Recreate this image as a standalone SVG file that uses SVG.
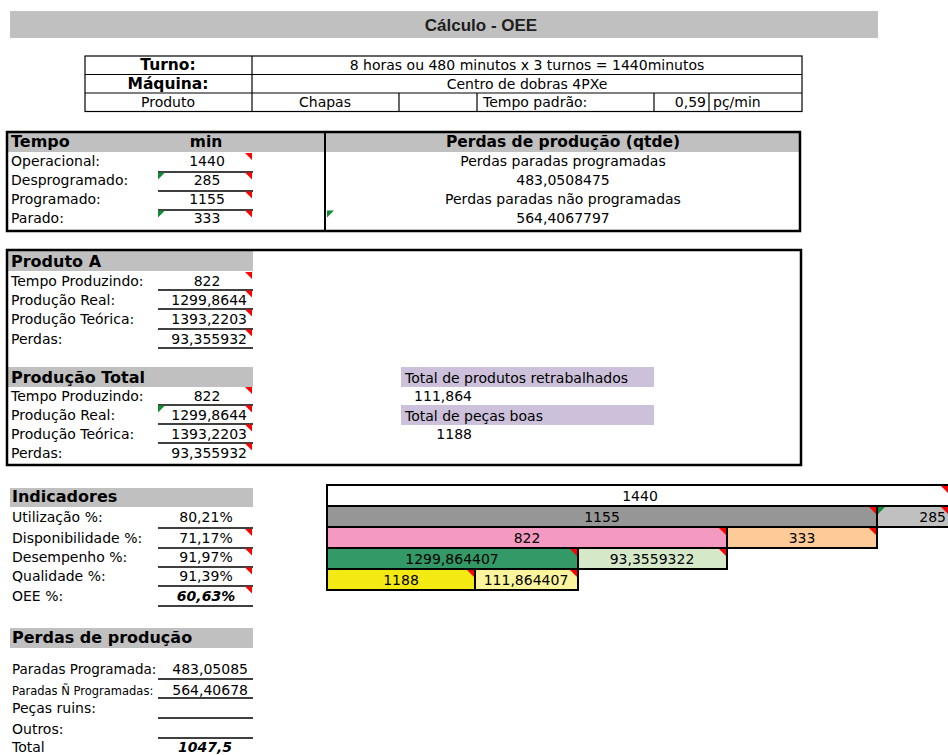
<svg xmlns="http://www.w3.org/2000/svg" xmlns:xlink="http://www.w3.org/1999/xlink" width="948" height="755" viewBox="0 0 948 755">
<style>
.t{font-family:"DejaVu Sans","Liberation Sans",sans-serif;font-size:14px;fill:#000}
.b{font-weight:bold;font-size:15.5px}
.h{font-weight:bold;font-size:16px}
.c{text-anchor:middle}
.e{text-anchor:end}
.bi{font-weight:bold;font-style:italic}
.hdr{fill:#c0c0c0}
.box{fill:none;stroke:#000;stroke-width:2.5}
.ln{stroke:#000;stroke-width:1.3;fill:none}
.tl{stroke:#000;stroke-width:1.2;fill:none}
.bar{stroke:#000;stroke-width:2}
</style>
<defs>
<path id="rd" d="M-7,0 L0,0 L0,7 Z" fill="#ff0000"/>
<path id="gr" d="M0,0 L7,0 L0,7 Z" fill="#138a36"/>
</defs>
<rect width="948" height="755" fill="#fff"/>

<g id="title">
<rect x="10" y="11" width="868" height="27" class="hdr"/>
<text x="481" y="31" text-anchor="middle" style="font-family:'Liberation Sans',Arial,sans-serif;font-weight:bold;font-size:17px;fill:#1e1e1e">Cálculo - OEE</text>
</g>

<g id="info-table">
<rect x="85" y="56" width="717" height="55.5" class="tl" stroke-width="1.5"/>
<line x1="85" y1="74.5" x2="802" y2="74.5" class="tl"/>
<line x1="85" y1="93" x2="802" y2="93" class="tl"/>
<line x1="252" y1="56" x2="252" y2="111.5" class="tl"/>
<line x1="399" y1="93" x2="399" y2="111.5" class="tl"/>
<line x1="477" y1="93" x2="477" y2="111.5" class="tl"/>
<line x1="654" y1="93" x2="654" y2="111.5" class="tl"/>
<line x1="709" y1="93" x2="709" y2="111.5" class="tl"/>
<text x="168" y="70" class="t b c">Turno:</text>
<text x="168" y="89" class="t b c">Máquina:</text>
<text x="168" y="107" class="t c">Produto</text>
<text x="527" y="70" class="t c">8 horas ou 480 minutos x 3 turnos = 1440minutos</text>
<text x="527" y="89" class="t c">Centro de dobras 4PXe</text>
<text x="325" y="107" class="t c">Chapas</text>
<text x="483" y="107" class="t">Tempo padrão:</text>
<text x="706" y="107" class="t e">0,59</text>
<text x="713" y="107" class="t">pç/min</text>
</g>

<g id="tempo">
<rect x="7" y="132" width="793" height="20" class="hdr"/>
<rect x="7" y="132" width="793" height="99" class="box"/>
<line x1="325" y1="132" x2="325" y2="231" stroke="#000" stroke-width="2"/>
<text x="11" y="147" class="t h">Tempo</text>
<text x="206" y="147" class="t b c">min</text>
<text x="563" y="147" class="t b c">Perdas de produção (qtde)</text>
<text x="11" y="166" class="t">Operacional:</text>
<text x="11" y="185" class="t">Desprogramado:</text>
<text x="11" y="204" class="t">Programado:</text>
<text x="11" y="223" class="t">Parado:</text>
<text x="207" y="166" class="t c">1440</text>
<text x="207" y="185" class="t c">285</text>
<text x="207" y="204" class="t c">1155</text>
<text x="207" y="223" class="t c">333</text>
<line x1="158" y1="172" x2="253" y2="172" class="ln"/>
<line x1="158" y1="191" x2="253" y2="191" class="ln"/>
<line x1="158" y1="210" x2="253" y2="210" class="ln"/>
<use xlink:href="#rd" x="252" y="153"/>
<use xlink:href="#rd" x="252" y="172.5"/>
<use xlink:href="#rd" x="252" y="191.5"/>
<use xlink:href="#rd" x="252" y="210.5"/>
<use xlink:href="#gr" x="158" y="172.5"/>
<use xlink:href="#gr" x="158" y="210.5"/>
<use xlink:href="#gr" x="327" y="210.5"/>
<text x="563" y="166" class="t c">Perdas paradas programadas</text>
<text x="563" y="185" class="t c">483,0508475</text>
<text x="563" y="204" class="t c">Perdas paradas não programadas</text>
<text x="563" y="223" class="t c">564,4067797</text>
</g>

<g id="producao">
<rect x="7" y="251" width="246" height="20" class="hdr"/>
<rect x="7" y="367" width="246" height="20" class="hdr"/>
<rect x="7" y="250" width="794" height="215" class="box"/>
<text x="11" y="267" class="t h">Produto A</text>
<text x="11" y="286" class="t">Tempo Produzindo:</text>
<text x="11" y="305" class="t">Produção Real:</text>
<text x="11" y="324" class="t">Produção Teórica:</text>
<text x="11" y="344" class="t">Perdas:</text>
<text x="207" y="286" class="t c">822</text>
<text x="247" y="305" class="t e">1299,8644</text>
<text x="247" y="324" class="t e">1393,2203</text>
<text x="247" y="344" class="t e">93,355932</text>
<line x1="158" y1="290" x2="253" y2="290" class="ln"/>
<line x1="158" y1="309" x2="253" y2="309" class="ln"/>
<line x1="158" y1="329" x2="253" y2="329" class="ln"/>
<line x1="158" y1="348" x2="253" y2="348" class="ln"/>
<use xlink:href="#rd" x="252" y="272"/>
<use xlink:href="#rd" x="252" y="290.5"/>
<use xlink:href="#rd" x="252" y="309.5"/>
<use xlink:href="#rd" x="252" y="329.5"/>
<text x="11" y="383" class="t h">Produção Total</text>
<text x="11" y="401" class="t">Tempo Produzindo:</text>
<text x="11" y="420" class="t">Produção Real:</text>
<text x="11" y="439" class="t">Produção Teórica:</text>
<text x="11" y="458" class="t">Perdas:</text>
<text x="207" y="401" class="t c">822</text>
<text x="247" y="420" class="t e">1299,8644</text>
<text x="247" y="439" class="t e">1393,2203</text>
<text x="247" y="458" class="t e">93,355932</text>
<line x1="158" y1="405" x2="253" y2="405" class="ln"/>
<line x1="158" y1="424" x2="253" y2="424" class="ln"/>
<line x1="158" y1="443" x2="253" y2="443" class="ln"/>
<use xlink:href="#rd" x="252" y="387"/>
<use xlink:href="#rd" x="252" y="405.5"/>
<use xlink:href="#rd" x="252" y="424.5"/>
<use xlink:href="#rd" x="252" y="443.5"/>
<use xlink:href="#gr" x="158" y="405.5"/>
<rect x="401" y="367" width="253" height="20" fill="#ccc0da"/>
<rect x="401" y="405" width="253" height="20" fill="#ccc0da"/>
<text x="405" y="383" class="t">Total de produtos retrabalhados</text>
<text x="472" y="401" class="t e">111,864</text>
<text x="405" y="421" class="t">Total de peças boas</text>
<text x="472" y="439" class="t e">1188</text>
</g>

<g id="indicadores">
<rect x="10" y="488" width="243" height="19" class="hdr"/>
<text x="12" y="502" class="t h">Indicadores</text>
<text x="12" y="522" class="t">Utilização %:</text>
<text x="12" y="543" class="t">Disponibilidade %:</text>
<text x="12" y="562" class="t">Desempenho %:</text>
<text x="12" y="581" class="t">Qualidade %:</text>
<text x="12" y="601" class="t">OEE %:</text>
<text x="206" y="522" class="t c">80,21%</text>
<text x="206" y="543" class="t c">71,17%</text>
<text x="206" y="562" class="t c">91,97%</text>
<text x="206" y="581" class="t c">91,39%</text>
<text x="206" y="601" class="t c bi">60,63%</text>
<line x1="158" y1="528" x2="253" y2="528" class="ln"/>
<line x1="158" y1="548" x2="253" y2="548" class="ln"/>
<line x1="158" y1="567" x2="253" y2="567" class="ln"/>
<line x1="158" y1="586" x2="253" y2="586" class="ln"/>
<line x1="158" y1="606" x2="253" y2="606" class="ln"/>
<use xlink:href="#rd" x="252" y="529"/>
<use xlink:href="#rd" x="252" y="548.5"/>
<use xlink:href="#rd" x="252" y="567.5"/>
<use xlink:href="#rd" x="252" y="586.5"/>
</g>

<g id="perdas">
<rect x="10" y="628" width="243" height="20" class="hdr"/>
<text x="12" y="643" class="t h">Perdas de produção</text>
<text x="12" y="674" class="t" style="font-size:13.5px">Paradas Programada:</text>
<text x="12" y="695" class="t" style="font-size:11.5px">Paradas Ñ Programadas:</text>
<text x="12" y="713" class="t">Peças ruins:</text>
<text x="12" y="734" class="t">Outros:</text>
<text x="12" y="752" class="t">Total</text>
<text x="248" y="674" class="t e">483,05085</text>
<text x="248" y="695" class="t e">564,40678</text>
<text x="205" y="752" class="t c bi">1047,5</text>
<line x1="158" y1="679" x2="253" y2="679" class="ln"/>
<line x1="158" y1="698" x2="253" y2="698" class="ln"/>
<line x1="158" y1="718" x2="253" y2="718" class="ln"/>
<line x1="158" y1="738" x2="253" y2="738" class="ln"/>
</g>

<g id="barras">
<rect x="327" y="485" width="625" height="21" fill="#fff" class="bar"/>
<rect x="327" y="506" width="550" height="21" fill="#969696" class="bar"/>
<rect x="877" y="506" width="75" height="21" fill="#c0c0c0" class="bar"/>
<rect x="327" y="527" width="400" height="21" fill="#f49ac1" class="bar"/>
<rect x="727" y="527" width="150" height="21" fill="#fdca98" class="bar"/>
<rect x="327" y="548" width="251" height="21" fill="#339966" class="bar"/>
<rect x="578" y="548" width="149" height="21" fill="#d5e9c9" class="bar"/>
<rect x="327" y="569" width="148" height="21" fill="#f2ea12" class="bar"/>
<rect x="475" y="569" width="103" height="21" fill="#faf49c" class="bar"/>
<use xlink:href="#rd" x="948" y="486"/>
<use xlink:href="#rd" x="876" y="507"/>
<use xlink:href="#rd" x="948" y="507"/>
<use xlink:href="#gr" x="878" y="507"/>
<use xlink:href="#rd" x="726" y="528"/>
<use xlink:href="#rd" x="876" y="528"/>
<use xlink:href="#rd" x="577" y="549"/>
<use xlink:href="#rd" x="726" y="549"/>
<use xlink:href="#rd" x="474" y="570"/>
<use xlink:href="#rd" x="577" y="570"/>
<text x="640" y="501" class="t c">1440</text>
<text x="602" y="522" class="t c">1155</text>
<text x="946" y="522" class="t e">285</text>
<text x="527" y="543" class="t c">822</text>
<text x="802" y="543" class="t c">333</text>
<text x="452" y="564" class="t c">1299,864407</text>
<text x="652" y="564" class="t c">93,3559322</text>
<text x="401" y="585" class="t c">1188</text>
<text x="526" y="585" class="t c">111,864407</text>
</g>
</svg>
